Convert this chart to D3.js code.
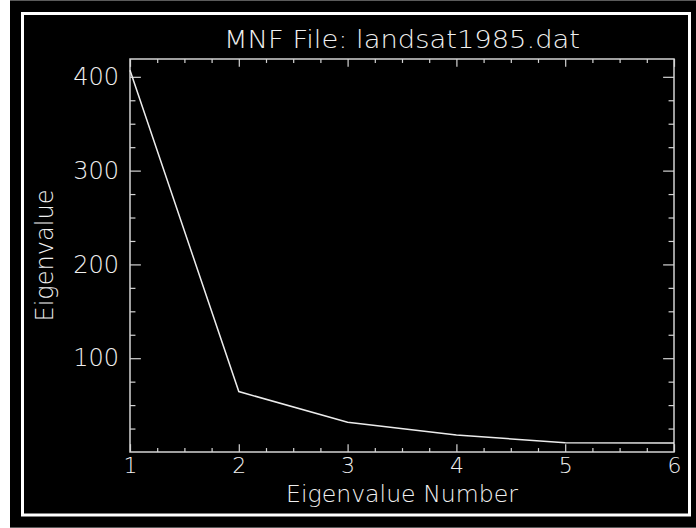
<!DOCTYPE html>
<html>
<head>
<meta charset="utf-8">
<script src="https://cdn.jsdelivr.net/npm/d3@7"></script>
<style>
  html, body { margin: 0; padding: 0; background: #ffffff; }
  svg { display: block; }
  text { font-family: "DejaVu Sans", sans-serif; font-weight: 200; fill: #f0f0f0; }
</style>
</head>
<body>
<svg id="chart" width="696" height="528"></svg>
<script>
// ---- data ----
const title = "MNF File: landsat1985.dat";
const xTitle = "Eigenvalue Number";
const yTitle = "Eigenvalue";
const eigenNumbers = [1, 2, 3, 4, 5, 6];
const eigenValues = [407, 64.4, 31.7, 18.1, 9.9, 9.7];
const xTickValues = [1, 2, 3, 4, 5, 6];
const yTickValues = [100, 200, 300, 400];
const xMinorTicks = d3.range(1, 6.001, 0.25).filter(v => Math.abs(v - Math.round(v)) > 1e-6);
const yMinorTicks = d3.range(25, 419, 25).filter(v => v % 100 !== 0);
const xDomain = [1, 6];
const yDomain = [0, 419];

// ---- layout ----
const W = 696, H = 528;
const plot = { left: 130, right: 674, top: 59, bottom: 452 };
const axisColor = "#d4d4d4";
const textColor = "#f0f0f0";
const fontSize = 24;
const xTickFont = 22;

const svg = d3.select("#chart");

// background panel
svg.append("rect").attr("x", 0).attr("y", 0).attr("width", W).attr("height", H).attr("fill", "#ffffff");
svg.append("rect").attr("x", 10).attr("y", 0).attr("width", W - 10).attr("height", H).attr("fill", "#000000");
svg.append("rect").attr("x", 10).attr("y", 0).attr("width", W - 10).attr("height", 1).attr("fill", "#5a5a5a");
svg.append("rect").attr("x", 10).attr("y", H - 1).attr("width", W - 10).attr("height", 1).attr("fill", "#5a5a5a");
// white frame
svg.append("rect").attr("x", 22.5).attr("y", 13.5).attr("width", 667).attr("height", 501.5)
  .attr("fill", "none").attr("stroke", "#ffffff").attr("stroke-width", 3);

const x = d3.scaleLinear().domain(xDomain).range([plot.left, plot.right]);
const y = d3.scaleLinear().domain(yDomain).range([plot.bottom, plot.top]);

const plotW = plot.right - plot.left, plotH = plot.bottom - plot.top;
const xTickLen = 0.02 * plotH;   // vertical tick length
const yTickLen = 0.02 * plotW;   // horizontal tick length

function styleAxis(g, size) {
  g.select(".domain").remove();
  g.selectAll(".tick line").attr("stroke", axisColor).attr("stroke-width", 1.2);
  g.selectAll(".tick text").attr("fill", textColor)
    .attr("font-family", "DejaVu Sans, sans-serif").attr("font-weight", 200)
    .attr("font-size", size || fontSize);
}

// bottom axis (major with labels)
svg.append("g").attr("transform", `translate(0,${plot.bottom})`)
  .call(d3.axisBottom(x).tickValues(xTickValues).tickFormat(d3.format("d"))
    .tickSizeInner(-xTickLen).tickSizeOuter(0).tickPadding(5))
  .call(g => styleAxis(g, xTickFont));
// bottom minor
svg.append("g").attr("transform", `translate(0,${plot.bottom})`)
  .call(d3.axisBottom(x).tickValues(xMinorTicks).tickFormat("").tickSizeInner(-xTickLen / 2).tickSizeOuter(0))
  .call(styleAxis);
// top axis
svg.append("g").attr("transform", `translate(0,${plot.top})`)
  .call(d3.axisTop(x).tickValues(xTickValues).tickFormat("").tickSizeInner(-xTickLen).tickSizeOuter(0))
  .call(styleAxis);
svg.append("g").attr("transform", `translate(0,${plot.top})`)
  .call(d3.axisTop(x).tickValues(xMinorTicks).tickFormat("").tickSizeInner(-xTickLen / 2).tickSizeOuter(0))
  .call(styleAxis);
// left axis
svg.append("g").attr("transform", `translate(${plot.left},0)`)
  .call(d3.axisLeft(y).tickValues(yTickValues).tickFormat(d3.format("d"))
    .tickSizeInner(-yTickLen).tickSizeOuter(0).tickPadding(11))
  .call(styleAxis);
svg.append("g").attr("transform", `translate(${plot.left},0)`)
  .call(d3.axisLeft(y).tickValues(yMinorTicks).tickFormat("").tickSizeInner(-yTickLen / 2).tickSizeOuter(0))
  .call(styleAxis);
// right axis
svg.append("g").attr("transform", `translate(${plot.right},0)`)
  .call(d3.axisRight(y).tickValues(yTickValues).tickFormat("").tickSizeInner(-yTickLen).tickSizeOuter(0))
  .call(styleAxis);
svg.append("g").attr("transform", `translate(${plot.right},0)`)
  .call(d3.axisRight(y).tickValues(yMinorTicks).tickFormat("").tickSizeInner(-yTickLen / 2).tickSizeOuter(0))
  .call(styleAxis);

// plot box
svg.append("rect").attr("x", plot.left).attr("y", plot.top)
  .attr("width", plotW).attr("height", plotH)
  .attr("fill", "none").attr("stroke", axisColor).attr("stroke-width", 1.5);

// data line
const line = d3.line().x((d, i) => x(eigenNumbers[i])).y(d => y(d));
svg.append("path").datum(eigenValues)
  .attr("d", line).attr("fill", "none").attr("stroke", "#ececec").attr("stroke-width", 1.5);

// title
svg.append("text").attr("x", (plot.left + plot.right) / 2).attr("y", 48)
  .attr("text-anchor", "middle").attr("font-size", fontSize + 1)
  .attr("textLength", 356).attr("lengthAdjust", "spacingAndGlyphs")
  .text(title);

// x title
svg.append("text").attr("x", 402).attr("y", 502)
  .attr("text-anchor", "middle").attr("font-size", 23)
  .attr("textLength", 232).attr("lengthAdjust", "spacingAndGlyphs")
  .text(xTitle);

// y title
svg.append("text").attr("transform", `translate(53,${(plot.top + plot.bottom) / 2}) rotate(-90)`)
  .attr("text-anchor", "middle").attr("font-size", fontSize)
  .attr("textLength", 132).attr("lengthAdjust", "spacingAndGlyphs")
  .text(yTitle);
</script>
</body>
</html>
